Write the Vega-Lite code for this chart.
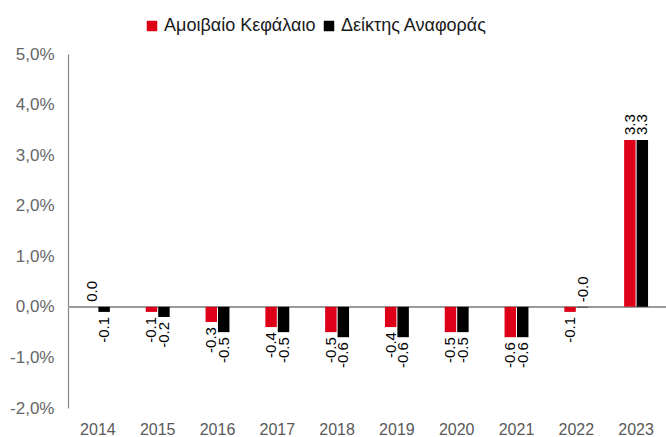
{
  "$schema": "https://vega.github.io/schema/vega-lite/v6.json",
  "width": 598,
  "height": 354,
  "autosize": {"type": "none"},
  "padding": {"left": 68, "top": 54, "right": 0, "bottom": 29},
  "background": "white",
  "config": {
    "view": {"stroke": null},
    "font": "Liberation Sans",
    "locale": {"number": {"decimal": ".", "thousands": ",", "grouping": [3], "currency": ["", ""], "minus": "-"}}
  },
  "data": {
    "values": [
      {"year": "2014", "series": "Αμοιβαίο Κεφάλαιο", "v": 0.0},
      {"year": "2014", "series": "Δείκτης Αναφοράς", "v": -0.1},
      {"year": "2015", "series": "Αμοιβαίο Κεφάλαιο", "v": -0.1},
      {"year": "2015", "series": "Δείκτης Αναφοράς", "v": -0.2},
      {"year": "2016", "series": "Αμοιβαίο Κεφάλαιο", "v": -0.3},
      {"year": "2016", "series": "Δείκτης Αναφοράς", "v": -0.5},
      {"year": "2017", "series": "Αμοιβαίο Κεφάλαιο", "v": -0.4},
      {"year": "2017", "series": "Δείκτης Αναφοράς", "v": -0.5},
      {"year": "2018", "series": "Αμοιβαίο Κεφάλαιο", "v": -0.5},
      {"year": "2018", "series": "Δείκτης Αναφοράς", "v": -0.6},
      {"year": "2019", "series": "Αμοιβαίο Κεφάλαιο", "v": -0.4},
      {"year": "2019", "series": "Δείκτης Αναφοράς", "v": -0.6},
      {"year": "2020", "series": "Αμοιβαίο Κεφάλαιο", "v": -0.5},
      {"year": "2020", "series": "Δείκτης Αναφοράς", "v": -0.5},
      {"year": "2021", "series": "Αμοιβαίο Κεφάλαιο", "v": -0.6},
      {"year": "2021", "series": "Δείκτης Αναφοράς", "v": -0.6},
      {"year": "2022", "series": "Αμοιβαίο Κεφάλαιο", "v": -0.1},
      {"year": "2022", "series": "Δείκτης Αναφοράς", "v": -0.01},
      {"year": "2023", "series": "Αμοιβαίο Κεφάλαιο", "v": 3.3},
      {"year": "2023", "series": "Δείκτης Αναφοράς", "v": 3.3}
    ]
  },
  "transform": [
    {"calculate": "datum.v < 0 ? '-' + format(abs(datum.v), '.1f') : format(datum.v, '.1f')", "as": "label"}
  ],
  "encoding": {
    "x": {
      "field": "year", "type": "nominal",
      "scale": {"paddingInner": 0.6, "paddingOuter": 0.3},
      "axis": {"title": null, "labelAngle": 0, "domain": false, "ticks": false, "labelPadding": 13, "labelFontSize": 16, "labelColor": "#595959", "labelFont": "Liberation Sans"}
    },
    "xOffset": {
      "field": "series", "type": "nominal",
      "scale": {"domain": ["Αμοιβαίο Κεφάλαιο", "Δείκτης Αναφοράς"], "paddingInner": 0.08}
    }
  },
  "layer": [
    {
      "mark": {"type": "rule", "color": "#999999", "strokeWidth": 1.5},
      "encoding": {"y": {"datum": 0, "type": "quantitative"}, "x": null, "xOffset": null}
    },
    {
      "mark": {"type": "bar"},
      "encoding": {
        "y": {
          "field": "v", "type": "quantitative",
          "scale": {"domain": [-2, 5], "nice": false, "zero": false},
          "axis": {
            "title": null, "values": [-2, -1, 0, 1, 2, 3, 4, 5], "grid": false, "ticks": false,
            "domainColor": "#888888", "domainWidth": 1.2, "labelPadding": 14,
            "labelFontSize": 17, "labelColor": "#666666",
            "labelExpr": "replace(format(datum.value, '.1f'), '.', ',') + '%'"
          }
        },
        "y2": {"datum": 0},
        "color": {
          "field": "series", "type": "nominal",
          "scale": {"domain": ["Αμοιβαίο Κεφάλαιο", "Δείκτης Αναφοράς"], "range": ["#DE0018", "#000000"]},
          "legend": {
            "title": null, "orient": "none", "direction": "horizontal",
            "legendX": 75, "legendY": -37,
            "symbolType": "square", "symbolSize": 110, "symbolStrokeWidth": 0,
            "labelFontSize": 18, "labelColor": "#1a1a1a", "labelOffset": 3, "columnPadding": 4
          }
        }
      }
    },
    {
      "transform": [{"filter": "datum.v > -0.05"}],
      "mark": {"type": "text", "angle": 270, "align": "left", "baseline": "middle", "dx": 5, "fontSize": 15, "color": "#000000"},
      "encoding": {
        "y": {"field": "v", "type": "quantitative"},
        "text": {"field": "label", "type": "nominal"}
      }
    },
    {
      "transform": [{"filter": "datum.v <= -0.05"}],
      "mark": {"type": "text", "angle": 270, "align": "right", "baseline": "middle", "dx": -5, "fontSize": 15, "color": "#000000"},
      "encoding": {
        "y": {"field": "v", "type": "quantitative"},
        "text": {"field": "label", "type": "nominal"}
      }
    }
  ]
}
